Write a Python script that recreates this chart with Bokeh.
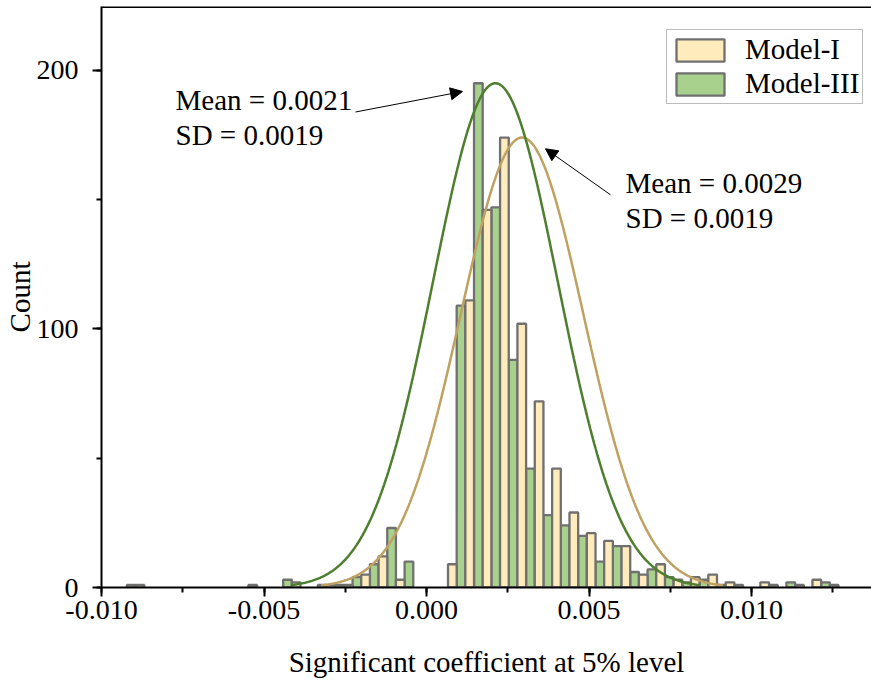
from bokeh.plotting import figure
from bokeh.models import (Range1d, SingleIntervalTicker, Legend, LegendItem, Arrow,
                          NormalHead, Label, Span, ColumnDataSource, PrintfTickFormatter)
from bokeh.embed import file_html
from bokeh.resources import INLINE
import numpy as np

# ---- data ----
bin_width = 0.000534
first_bin_center = -0.0089505          # centre of the left-most bin pair
counts_model_I = [1, 0, 0, 0, 0, 0, 0, 0, 0, 2, 0, 1, 1, 5, 12, 3, 0, 0, 9,
                  111, 146, 174, 102, 72, 46, 29, 21, 18, 16, 5, 9, 3, 4, 5, 2, 0, 2, 0, 1, 3, 1]
counts_model_III = [1, 0, 0, 0, 0, 0, 0, 1, 0, 3, 0, 1, 1, 4, 9, 23, 10, 0, 0,
                    109, 195, 147, 88, 46, 28, 24, 20, 10, 16, 6, 7, 4, 2, 3, 1, 1, 0, 1, 2, 0, 2]
series_names = ["Model-I", "Model-III"]
fit_mean = {"Model-I": 0.00294, "Model-III": 0.00212}
fit_sd = {"Model-I": 0.00189, "Model-III": 0.00192}
fit_peak = {"Model-I": 174, "Model-III": 195}
fit_span_sd = 3.27
x_major = 0.005
y_major = 100
x_title = "Significant coefficient at 5% level"
y_title = "Count"
annot_I = ["Mean = 0.0029", "SD = 0.0019"]
annot_III = ["Mean = 0.0021", "SD = 0.0019"]

FONT = "Liberation Serif"
fill_I, fill_III = "#FFEBBC", "#A9D18E"
curve_I, curve_III = "#BFA262", "#4E7F2E"
edge = "#707070"

FL, FR, FT, FB = 101, 871, 6, 587      # frame edges in page pixels
X0, X1 = -0.010, -0.010 + (FR - FL) / 32500.0
Y0, Y1 = 0, (FB - FT) / 2.586

p = figure(width=871, height=680, output_backend="svg", toolbar_location=None,
           x_range=Range1d(X0, X1), y_range=Range1d(Y0, Y1),
           min_border_left=FL, min_border_right=0, min_border_top=FT, min_border_bottom=680 - FB)
p.outline_line_color = None
p.xgrid.visible = False
p.ygrid.visible = False
p.background_fill_color = "white"

n = len(counts_model_I)
centers = [first_bin_center + i * bin_width for i in range(n)]
half = bin_width / 2.0

def src(counts, offset):
    xs = [c + offset for c, v in zip(centers, counts) if v > 0]
    ts = [v for v in counts if v > 0]
    return ColumnDataSource(dict(x=xs, top=ts))

r_III = p.vbar(x="x", top="top", bottom=0, width=half, source=src(counts_model_III, -half / 2),
               fill_color=fill_III, line_color=edge, line_width=2.3)
r_I = p.vbar(x="x", top="top", bottom=0, width=half, source=src(counts_model_I, half / 2),
             fill_color=fill_I, line_color=edge, line_width=2.3)

for name, col in [("Model-I", curve_I), ("Model-III", curve_III)]:
    mu, sd, pk = fit_mean[name], fit_sd[name], fit_peak[name]
    xs = np.linspace(mu - fit_span_sd * sd, mu + fit_span_sd * sd, 300)
    ys = pk * np.exp(-0.5 * ((xs - mu) / sd) ** 2)
    p.line(xs, ys, line_color=col, line_width=2.5)

# top frame line
p.add_layout(Span(location=Y1, dimension="width", line_color="black", line_width=3))

# axes
for ax in (p.xaxis[0], p.yaxis[0]):
    ax.axis_line_width = 2
    ax.axis_line_color = "black"
    ax.major_tick_line_width = 2
    ax.minor_tick_line_width = 2
    ax.major_tick_in = 0
    ax.major_tick_out = 9
    ax.minor_tick_in = 0
    ax.minor_tick_out = 5
    ax.major_label_text_font = FONT
    ax.major_label_text_font_size = "28px"
    ax.major_label_text_color = "black"
    ax.axis_label_text_font = FONT
    ax.axis_label_text_font_size = "29px"
    ax.axis_label_text_font_style = "normal"
    ax.axis_label_text_color = "black"

p.xaxis.ticker = SingleIntervalTicker(interval=x_major, num_minor_ticks=2)
p.yaxis.ticker = SingleIntervalTicker(interval=y_major, num_minor_ticks=2)
p.xaxis.formatter = PrintfTickFormatter(format="%.3f")
p.yaxis.formatter = PrintfTickFormatter(format="%d")
p.xaxis.axis_label = x_title
p.yaxis.axis_label = y_title
p.xaxis.major_label_standoff = 4
p.yaxis.major_label_standoff = 14
p.xaxis.axis_label_standoff = 24
p.yaxis.axis_label_standoff = -2

px_per_x = (FR - FL) / (X1 - X0)
px_per_y = (FB - FT) / (Y1 - Y0)
def dx(page_x):
    return X0 + (page_x - FL) / px_per_x
def dy(page_y):
    return Y0 + (FB - page_y) / px_per_y

# legend
legend = Legend(items=[LegendItem(label=series_names[0], renderers=[r_I]),
                       LegendItem(label=series_names[1], renderers=[r_III])],
                location=(666 - FL, FB - 104), orientation="vertical")
legend.glyph_width = 60
legend.glyph_height = 28
legend.label_height = 28
legend.label_standoff = 15
legend.padding = 3
legend.spacing = 1
legend.margin = 0
legend.border_line_color = "#7a7a7a"
legend.border_line_width = 1.5
legend.background_fill_color = "white"
legend.background_fill_alpha = 1
legend.label_text_font = FONT
legend.label_text_font_size = "29px"
legend.label_text_color = "black"
p.add_layout(legend)

# annotations
def add_text(lines, x, y, step):
    for i, t in enumerate(lines):
        p.add_layout(Label(x=x, y=y - i * step, text=t, text_font=FONT, text_font_size="29px",
                           text_color="black", text_baseline="alphabetic", text_align="left"))

add_text(annot_III, dx(175), dy(99), 35 / px_per_y)
add_text(annot_I, dx(625), dy(182.5), 35 / px_per_y)

p.add_layout(Arrow(x_start=dx(355), y_start=dy(111.5), x_end=dx(462), y_end=dy(91),
                   line_width=1, line_color="black",
                   end=NormalHead(size=12, fill_color="black", line_color="black", line_width=1)))
p.add_layout(Arrow(x_start=dx(610), y_start=dy(194.3), x_end=dx(545), y_end=dy(148.3),
                   line_width=1, line_color="black",
                   end=NormalHead(size=12, fill_color="black", line_color="black", line_width=1)))

open("out.html", "w").write(file_html(p, INLINE))
